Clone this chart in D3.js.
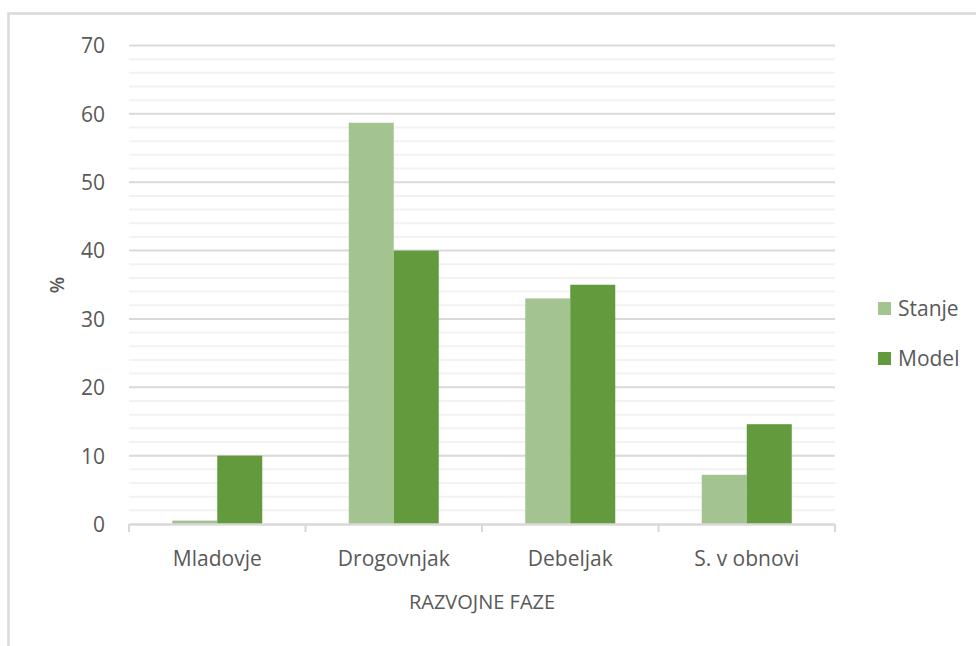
<!DOCTYPE html>
<html>
<head>
<meta charset="utf-8">
<script src="https://cdn.jsdelivr.net/npm/d3@7"></script>
<style>
  html, body { margin: 0; padding: 0; background: #fff; }
  svg { display: block; }
  text { font-family: "Open Sans", Lato, sans-serif; fill: #595959; }
</style>
</head>
<body>
<svg id="chart" width="976" height="646"></svg>
<script>
// Razvojne faze: current state vs. model distribution (%)
const categories = ["Mladovje", "Drogovnjak", "Debeljak", "S. v obnovi"];
const seriesNames = ["Stanje", "Model"];
const stanje = [0.5, 58.7, 33, 7.2];
const model = [10, 40, 35, 14.6];
const yTicks = [0, 10, 20, 30, 40, 50, 60, 70];
const colors = ["#a3c490", "#629a3d"];

const svg = d3.select("#chart");
const margin = { left: 129, right: 976 - 835, top: 45.5, bottom: 646 - 524 };
const width = 976 - margin.left - margin.right;
const height = 646 - margin.top - margin.bottom;

// outer chart frame
svg.append("rect")
  .attr("x", 8.5).attr("y", 13.5)
  .attr("width", 1000).attr("height", 700)
  .attr("fill", "none")
  .attr("stroke", "#d9d9d9")
  .attr("stroke-width", 2.5);

const g = svg.append("g").attr("transform", `translate(${margin.left},${margin.top})`);

const y = d3.scaleLinear().domain([0, 70]).range([height, 0]);
const x0 = d3.scaleBand().domain(categories).range([0, width]).paddingInner(0).paddingOuter(0);
const bw = x0.bandwidth();
const groupW = bw * 0.51;
const x1 = d3.scaleBand().domain(seriesNames)
  .range([(bw - groupW) / 2, (bw + groupW) / 2]).padding(0);

// minor gridlines every 2
g.append("g").selectAll("line")
  .data(d3.range(2, 70, 2).filter(v => v % 10 !== 0))
  .join("line")
  .attr("x1", 0).attr("x2", width)
  .attr("y1", d => y(d)).attr("y2", d => y(d))
  .attr("stroke", "#f2f2f2").attr("stroke-width", 2);

// major gridlines
g.append("g").selectAll("line")
  .data(yTicks.filter(v => v > 0))
  .join("line")
  .attr("x1", 0).attr("x2", width)
  .attr("y1", d => y(d)).attr("y2", d => y(d))
  .attr("stroke", "#d9d9d9").attr("stroke-width", 2);

// y tick labels
const yAxis = g.append("g")
  .call(d3.axisLeft(y).tickValues(yTicks).tickSize(0).tickPadding(24));
yAxis.select(".domain").remove();
yAxis.selectAll("text")
  .style("font-size", "21px")
  .attr("fill", "#595959")
  .attr("dy", "0.35em");

// bars
const rows = categories.map((c, i) => ({ cat: c, values: [stanje[i], model[i]] }));
g.append("g").selectAll("g")
  .data(rows)
  .join("g")
  .attr("transform", d => `translate(${x0(d.cat)},0)`)
  .selectAll("rect")
  .data(d => d.values.map((v, j) => ({ key: seriesNames[j], v, j })))
  .join("rect")
  .attr("x", d => x1(d.key))
  .attr("width", x1.bandwidth())
  .attr("y", d => y(d.v))
  .attr("height", d => y(0) - y(d.v))
  .attr("fill", d => colors[d.j]);

// category axis
const xAxis = g.append("g")
  .attr("transform", `translate(0,${height})`)
  .call(d3.axisBottom(x0).tickSize(0).tickPadding(27));
xAxis.select(".domain").remove();
xAxis.selectAll("text").style("font-size", "21px").attr("fill", "#595959");

g.append("line")
  .attr("x1", 0).attr("x2", width)
  .attr("y1", height + 0.5).attr("y2", height + 0.5)
  .attr("stroke", "#d9d9d9").attr("stroke-width", 2.5);

// category boundary ticks
const bounds = categories.map(c => x0(c)).concat([width]);
g.append("g").selectAll("line")
  .data(bounds)
  .join("line")
  .attr("x1", d => d).attr("x2", d => d)
  .attr("y1", height).attr("y2", height + 8)
  .attr("stroke", "#d9d9d9").attr("stroke-width", 2);

// axis titles
svg.append("text")
  .attr("transform", "translate(64,285) rotate(-90)")
  .attr("text-anchor", "middle")
  .style("font-size", "19px")
  .style("font-weight", "600")
  .text("%");

svg.append("text")
  .attr("x", margin.left + width / 2)
  .attr("y", 609)
  .attr("text-anchor", "middle")
  .style("font-size", "20px")
  .text("RAZVOJNE FAZE");

// legend
const legend = svg.append("g").attr("transform", "translate(878,302)");
seriesNames.forEach((s, i) => {
  const lg = legend.append("g").attr("transform", `translate(0,${i * 50})`);
  lg.append("rect").attr("width", 13).attr("height", 13).attr("fill", colors[i]);
  lg.append("text").attr("x", 20).attr("y", 7).attr("dy", "0.35em")
    .style("font-size", "21px").text(s);
});
</script>
</body>
</html>
